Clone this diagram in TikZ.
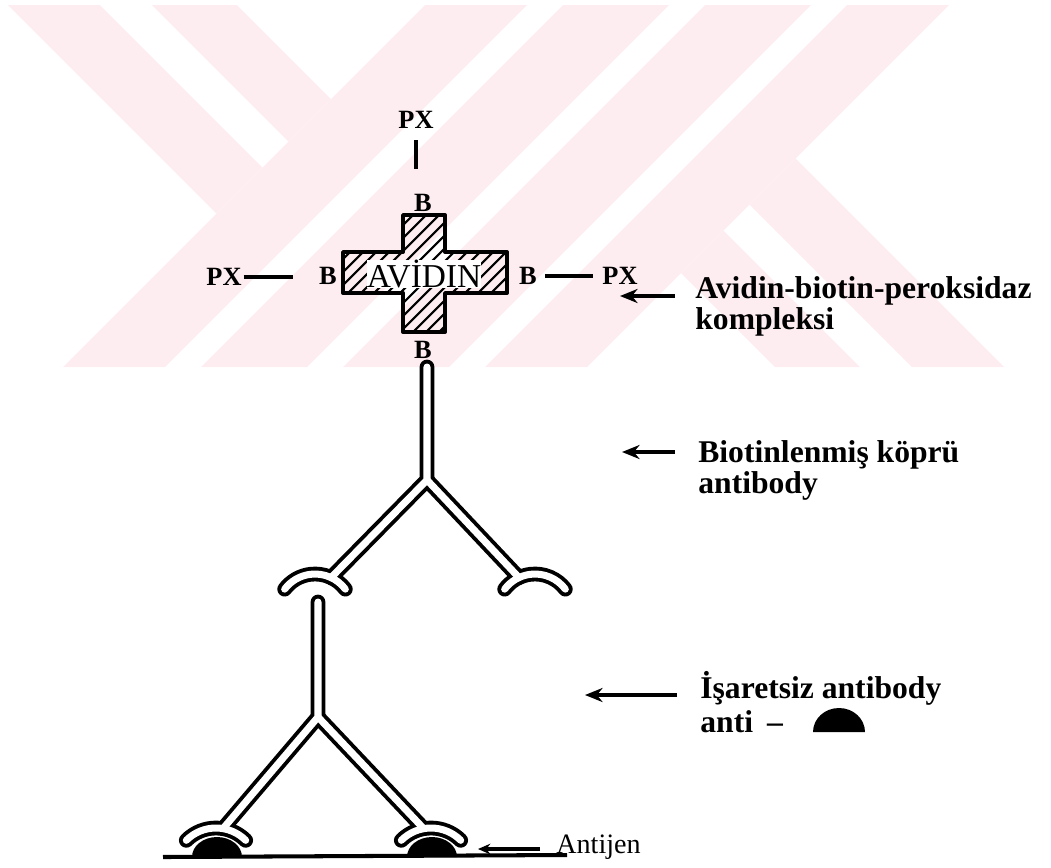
\documentclass[tikz,border=0pt]{standalone}
\usepackage{fontspec}
\setmainfont{Liberation Serif}
\usetikzlibrary{arrows.meta}

\definecolor{logopink}{RGB}{253,237,241}

\tikzset{
  tag/.style={font=\bfseries\fontsize{15}{15}\selectfont, inner sep=0pt},
  lbl/.style={font=\bfseries\fontsize{18}{18}\selectfont, anchor=base west, inner sep=0pt},
  bond/.style={line width=2.3pt},
  ptr/.style={line width=2.2pt, -{Stealth[length=10pt,width=8pt]}},
  ab/.style={line width=8.4pt, line cap=round, line join=round},
  abin/.style={ab, white, line width=4pt},
  hatch/.style={line width=1.2pt},
}

\begin{document}
\begin{tikzpicture}[x=0.02cm, y=-0.02cm]
\useasboundingbox (0,0) rectangle (1051,867);

% background logo, light bands
\fill[logopink] (425,5) -- (527,5) -- (165,367) -- (63,367) -- cycle;
\fill[logopink] (563,5) -- (669,5) -- (307,367) -- (201,367) -- cycle;
\fill[logopink] (705,5) -- (811,5) -- (449,367) -- (343,367) -- cycle;
\fill[logopink] (847,5) -- (949,5) -- (587,367) -- (485,367) -- cycle;
\fill[logopink] (8,5) -- (100,5) -- (262.5,167.5) -- (216.5,213.5) -- cycle;
\fill[logopink] (152,5) -- (237,5) -- (331,99) -- (288.5,141.5) -- cycle;
\fill[logopink] (912,367) -- (1004,367) -- (795.5,158.5) -- (749.5,204.5) -- cycle;
\fill[logopink] (775,367) -- (860,367) -- (723.5,230.5) -- (681,273) -- cycle;

% avidin cross
\begin{scope}
  \clip (343,252) -- (403,252) -- (403,215) -- (445,215) -- (445,252) -- (507,252)
    -- (507,293) -- (445,293) -- (445,332) -- (403,332) -- (403,293) -- (343,293) -- cycle;
  \foreach \c in {550,563,...,860}
    \draw[hatch] ({\c-215},215) -- ({\c-335},335);
\end{scope}
\draw[line width=2.2pt, line join=round] (343,252) -- (403,252) -- (403,215) -- (445,215) -- (445,252) -- (507,252)
    -- (507,293) -- (445,293) -- (445,332) -- (403,332) -- (403,293) -- (343,293) -- cycle;
\node[fill=white, inner sep=0pt, font=\fontsize{19}{19}\selectfont] (avidin) at (424,274) {AVİDIN};

% biotin and peroxidase
\node[tag] (pxT) at (416,120) {PX};
\node[tag] (bT) at (423,203) {B};
\node[tag] (pxL) at (224,277) {PX};
\node[tag] (bL) at (328,276) {B};
\node[tag] (bR) at (528,276) {B};
\node[tag] (pxR) at (620,276) {PX};
\node[tag] (bD) at (423,350) {B};
\draw[bond, shorten <=6.5pt, shorten >=14pt] (pxT.south) -- (pxT.south |- bT.north);
\draw[bond, shorten <=1pt, shorten >=15pt] (pxL.east) -- (pxL.east -| bL.west);
\draw[bond, shorten <=4.5pt, shorten >=5.4pt] (bR.east) -- (pxR.west);

% two antibodies, outline first then the white core
\foreach \st in {ab,abin} {
  \draw[\st] (427,367) -- (427,480) -- (331,577.6);
  \draw[\st] (427,480) -- (519,577.6);
  \draw[\st] (315,612) ++(37:0.76cm) arc[start angle=37, end angle=143, radius=0.76cm];
  \draw[\st] (535,612) ++(37:0.76cm) arc[start angle=37, end angle=143, radius=0.76cm];
  \draw[\st] (318,602) -- (318,717) -- (223,828.6);
  \draw[\st] (318,717) -- (423.7,828.6);
  \draw[\st] (216,870) ++(45:0.84cm) arc[start angle=45, end angle=135, radius=0.84cm];
  \draw[\st] (431,870) ++(45:0.84cm) arc[start angle=45, end angle=135, radius=0.84cm];
}

% antigen on the section
\fill (192,857) arc[start angle=180, end angle=0, x radius=0.5cm, y radius=0.4cm] -- cycle;
\fill (407,857) arc[start angle=180, end angle=0, x radius=0.5cm, y radius=0.4cm] -- cycle;
\draw[line width=2.3pt] (163,857) -- (567,855);

% labels
\node[lbl] (lab1a) at (695,298) {Avidin-biotin-peroksidaz};
\node[lbl] (lab1b) at (695,329) {kompleksi};
\node[lbl] (lab2a) at (698,462) {Biotinlenmiş köprü};
\node[lbl] (lab2b) at (698,493) {antibody};
\node[lbl] (lab3a) at (700,698) {İşaretsiz antibody};
\node[lbl] (lab3b) at (700,732) {anti\hspace{8pt}--};
\fill (813,732) arc[start angle=180, end angle=0, x radius=0.52cm, y radius=0.48cm] -- cycle;
\node[font=\fontsize{16}{16}\selectfont, anchor=base west, inner sep=0pt] (antijen) at (556,853) {Antijen};

\coordinate (s1) at (675,296);
\coordinate (t1) at (620,296);
\coordinate (s2) at (675,452);
\coordinate (t2) at (622,452);
\coordinate (s3) at (677,695);
\coordinate (t3) at (585,695);
\coordinate (s4) at (540,849);
\coordinate (t4) at (478,849);
\draw[ptr] (s1) -- (t1);
\draw[ptr] (s2) -- (t2);
\draw[ptr] (s3) -- (t3);
\draw[line width=1.8pt, -{Stealth[length=7pt,width=6pt]}] (s4) -- (t4);
\end{tikzpicture}
\end{document}
